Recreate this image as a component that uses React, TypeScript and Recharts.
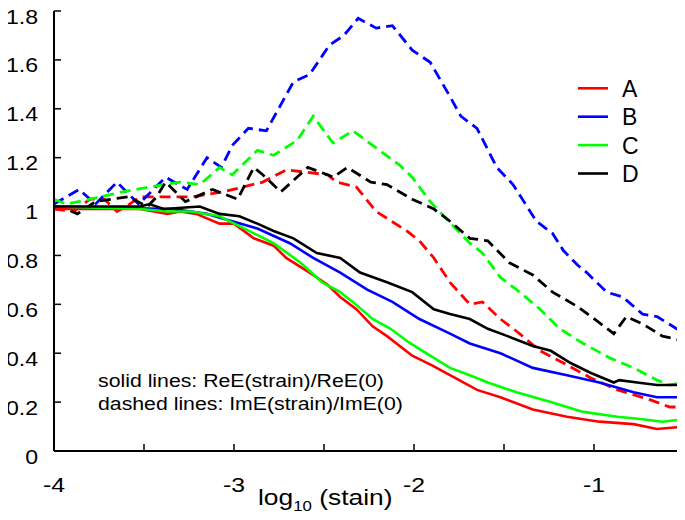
import React from 'react';
import { LineChart, Line, XAxis, YAxis } from 'recharts';

// ---- Data ----
const seriesNames = ['A', 'B', 'C', 'D'];
const seriesColors = ['#ff0000', '#0000ff', '#00ff00', '#000000'];

const xTicks = [-4, -3.5, -3, -2.5, -2, -1.5, -1, -0.5];
const yTicks = [0, 0.2, 0.4, 0.6, 0.8, 1, 1.2, 1.4, 1.6, 1.8];

// solid lines: ReE(strain)/ReE(0)
const reA_x = [-4.0, -3.71, -3.52, -3.37, -3.3, -3.21, -3.08, -3.0, -2.89, -2.78, -2.71, -2.58, -2.48, -2.41, -2.32, -2.23, -2.15, -2.01, -1.9, -1.8, -1.65, -1.52, -1.34, -1.15, -0.97, -0.78, -0.65, -0.5];
const reA_y = [0.99, 0.99, 0.99, 0.97, 0.98, 0.97, 0.93, 0.93, 0.87, 0.84, 0.79, 0.73, 0.68, 0.63, 0.58, 0.51, 0.47, 0.39, 0.35, 0.31, 0.25, 0.22, 0.17, 0.14, 0.12, 0.11, 0.09, 0.10];

const reB_x = [-4.0, -3.34, -3.15, -3.01, -2.87, -2.69, -2.56, -2.41, -2.26, -2.12, -1.97, -1.8, -1.69, -1.52, -1.34, -1.15, -0.97, -0.78, -0.65, -0.5];
const reB_y = [1.0, 0.99, 0.97, 0.94, 0.91, 0.85, 0.79, 0.73, 0.66, 0.61, 0.54, 0.48, 0.44, 0.4, 0.34, 0.31, 0.28, 0.24, 0.22, 0.22];

const reC_x = [-4.0, -3.52, -3.37, -3.24, -3.08, -2.97, -2.78, -2.63, -2.51, -2.41, -2.34, -2.23, -2.13, -2.02, -1.91, -1.8, -1.69, -1.59, -1.43, -1.24, -1.06, -0.87, -0.73, -0.62, -0.5];
const reC_y = [1.0, 0.99, 0.98, 0.98, 0.96, 0.92, 0.85, 0.77, 0.69, 0.65, 0.61, 0.54, 0.5, 0.44, 0.39, 0.34, 0.31, 0.28, 0.24, 0.2, 0.16, 0.14, 0.13, 0.12, 0.13];

const reD_x = [-4.0, -3.52, -3.47, -3.39, -3.19, -3.08, -2.97, -2.87, -2.78, -2.67, -2.54, -2.41, -2.3, -2.15, -2.01, -1.89, -1.8, -1.69, -1.59, -1.48, -1.34, -1.24, -1.13, -1.02, -0.89, -0.86, -0.76, -0.65, -0.5];
const reD_y = [1.0, 1.0, 1.01, 0.99, 1.0, 0.97, 0.96, 0.93, 0.9, 0.87, 0.81, 0.79, 0.73, 0.69, 0.65, 0.58, 0.56, 0.54, 0.5, 0.47, 0.43, 0.41, 0.36, 0.32, 0.28, 0.29, 0.28, 0.27, 0.27];

// dashed lines: ImE(strain)/ImE(0)
const imA_x = [-4.0, -3.89, -3.8, -3.72, -3.65, -3.58, -3.52, -3.23, -3.06, -2.95, -2.84, -2.71, -2.48, -2.43, -2.32, -2.21, -2.04, -1.97, -1.89, -1.8, -1.69, -1.62, -1.52, -1.43, -1.3, -1.17, -1.02, -0.87, -0.69, -0.58, -0.5];
const imA_y = [0.99, 0.98, 1.03, 1.03, 0.98, 1.01, 1.04, 1.04, 1.06, 1.08, 1.1, 1.15, 1.13, 1.1, 1.08, 0.98, 0.9, 0.86, 0.79, 0.69, 0.6, 0.61, 0.54, 0.49, 0.41, 0.36, 0.3, 0.25, 0.21, 0.18, 0.18];

const imB_x = [-4.0, -3.86, -3.77, -3.65, -3.53, -3.38, -3.26, -3.15, -3.07, -3.01, -2.92, -2.82, -2.67, -2.58, -2.47, -2.39, -2.31, -2.21, -2.12, -2.01, -1.91, -1.8, -1.74, -1.65, -1.54, -1.45, -1.32, -1.23, -1.17, -1.09, -1.04, -0.93, -0.84, -0.73, -0.65, -0.54, -0.5];
const imB_y = [1.01, 1.07, 1.01, 1.1, 1.01, 1.12, 1.07, 1.2, 1.16, 1.25, 1.32, 1.31, 1.51, 1.54, 1.66, 1.7, 1.77, 1.73, 1.74, 1.64, 1.59, 1.45, 1.37, 1.32, 1.16, 1.09, 0.94, 0.89, 0.82, 0.76, 0.73, 0.65, 0.63, 0.56, 0.55, 0.5, 0.5];

const imC_x = [-4.0, -3.93, -3.8, -3.62, -3.47, -3.3, -3.19, -3.08, -3.01, -2.87, -2.78, -2.65, -2.56, -2.45, -2.34, -2.21, -2.08, -2.01, -1.91, -1.82, -1.69, -1.62, -1.52, -1.43, -1.3, -1.19, -1.06, -0.91, -0.78, -0.65, -0.58, -0.5];
const imC_y = [1.03, 1.01, 1.03, 1.06, 1.08, 1.1, 1.09, 1.16, 1.13, 1.23, 1.21, 1.27, 1.37, 1.26, 1.31, 1.24, 1.17, 1.12, 1.02, 0.95, 0.85, 0.81, 0.71, 0.66, 0.58, 0.5, 0.44, 0.38, 0.34, 0.29, 0.27, 0.28];

const imD_x = [-4.0, -3.93, -3.87, -3.77, -3.59, -3.48, -3.43, -3.38, -3.27, -3.12, -2.98, -2.89, -2.84, -2.74, -2.59, -2.48, -2.45, -2.37, -2.24, -2.15, -2.01, -1.89, -1.8, -1.69, -1.59, -1.47, -1.34, -1.23, -1.09, -0.98, -0.89, -0.82, -0.73, -0.62, -0.5];
const imD_y = [1.0, 0.99, 0.97, 1.02, 1.04, 1.0, 1.04, 1.1, 1.02, 1.07, 1.03, 1.16, 1.13, 1.06, 1.16, 1.13, 1.12, 1.16, 1.1, 1.09, 1.03, 0.99, 0.94, 0.87, 0.86, 0.77, 0.72, 0.65, 0.59, 0.53, 0.48, 0.55, 0.52, 0.47, 0.45];

const annotationLines = ['solid lines: ReE(strain)/ReE(0)', 'dashed lines: ImE(strain)/ImE(0)'];

// ---- Build tables ----
const zip = (xs: number[], ys: number[]) => xs.map((x, i) => ({ x, y: ys[i] }));
const reData = [zip(reA_x, reA_y), zip(reB_x, reB_y), zip(reC_x, reC_y), zip(reD_x, reD_y)];
const imData = [zip(imA_x, imA_y), zip(imB_x, imB_y), zip(imC_x, imC_y), zip(imD_x, imD_y)];

// ---- Layout ----
const W = 685;
const H = 520;
const FONT = 'Liberation Sans, Arial, Helvetica, sans-serif';

const SText = ({ x, y, anchor = 'start', size = 21, sx = 1.12, children }: any) => (
  <text
    transform={`translate(${x} ${y}) scale(${sx} 1)`}
    textAnchor={anchor}
    fontSize={size}
    fontFamily={FONT}
    fill="#000"
  >
    {children}
  </text>
);

const BottomTick = (props: any) => {
  const { x, y, payload } = props;
  const v = payload.value;
  const major = Math.abs(v - Math.round(v)) < 1e-9;
  return (
    <g>
      <line x1={x} x2={x} y1={y} y2={y - 7} stroke="#000" strokeWidth={1.5} />
      {major && (
        <SText x={x} y={y + 41} anchor="middle" sx={1.18}>
          {String(v)}
        </SText>
      )}
    </g>
  );
};

const TopTick = (props: any) => {
  const { x, y } = props;
  return <line x1={x} x2={x} y1={y} y2={y + 7} stroke="#000" strokeWidth={1.5} />;
};

const LeftTick = (props: any) => {
  const { x, y, payload } = props;
  const v = Math.round(payload.value * 10) / 10;
  return (
    <g>
      <line x1={x} x2={x + 7} y1={y} y2={y} stroke="#000" strokeWidth={1.5} />
      <SText x={x - 16} y={y + 12.5} anchor="end" sx={1.1}>
        {String(v)}
      </SText>
    </g>
  );
};

const RightTick = (props: any) => {
  const { x, y } = props;
  return <line x1={x} x2={x - 7} y1={y} y2={y} stroke="#000" strokeWidth={1.5} />;
};

export default function App() {
  const legendTop = 88.3;
  const legendStep = 28.4;
  return (
    <div style={{ position: 'relative', width: W, height: H, margin: -8 }}>
      <LineChart width={W} height={H} margin={{ top: 11, right: 1, bottom: 0, left: 0 }}>
        <XAxis
          xAxisId="bottom"
          dataKey="x"
          type="number"
          domain={[-4, -0.5]}
          ticks={xTicks}
          allowDataOverflow
          height={69}
          tickSize={0}
          tickMargin={0}
          tickLine={false}
          tick={<BottomTick />}
          axisLine={{ stroke: '#000', strokeWidth: 2 }}
          interval={0}
        />
        <XAxis
          xAxisId="top"
          orientation="top"
          dataKey="x"
          type="number"
          domain={[-4, -0.5]}
          ticks={xTicks}
          allowDataOverflow
          height={0}
          tickSize={0}
          tickMargin={0}
          tickLine={false}
          tick={<TopTick />}
          axisLine={{ stroke: '#000', strokeWidth: 2 }}
          interval={0}
        />
        <YAxis
          yAxisId="left"
          type="number"
          domain={[0, 1.8]}
          ticks={yTicks}
          allowDataOverflow
          width={54}
          tickSize={0}
          tickMargin={0}
          tickLine={false}
          tick={<LeftTick />}
          axisLine={{ stroke: '#000', strokeWidth: 2 }}
          interval={0}
        />
        <YAxis
          yAxisId="right"
          orientation="right"
          type="number"
          domain={[0, 1.8]}
          ticks={yTicks}
          allowDataOverflow
          width={0}
          tickSize={0}
          tickMargin={0}
          tickLine={false}
          tick={<RightTick />}
          axisLine={{ stroke: '#000', strokeWidth: 2 }}
          interval={0}
        />
        {seriesNames.map((n, i) => (
          <Line
            key={'im' + n}
            xAxisId="bottom"
            yAxisId="left"
            data={imData[i]}
            dataKey="y"
            name={n + ' Im'}
            type="linear"
            stroke={seriesColors[i]}
            strokeWidth={2.8}
            strokeDasharray="11 6"
            dot={false}
            activeDot={false}
            legendType="none"
            isAnimationActive={false}
          />
        ))}
        {seriesNames.map((n, i) => (
          <Line
            key={'re' + n}
            xAxisId="bottom"
            yAxisId="left"
            data={reData[i]}
            dataKey="y"
            name={n}
            type="linear"
            stroke={seriesColors[i]}
            strokeWidth={2.6}
            dot={false}
            activeDot={false}
            isAnimationActive={false}
          />
        ))}
      </LineChart>
      <svg
        width={W}
        height={H}
        style={{ position: 'absolute', left: 0, top: 0, pointerEvents: 'none', overflow: 'visible' }}
      >
        {seriesNames.map((n, i) => (
          <g key={n}>
            <line
              x1={578}
              x2={608}
              y1={legendTop + i * legendStep}
              y2={legendTop + i * legendStep}
              stroke={seriesColors[i]}
              strokeWidth={2.6}
            />
            <SText x={622} y={legendTop + i * legendStep + 8.5} size={23} sx={1.0}>
              {n}
            </SText>
          </g>
        ))}
        <SText x={98} y={387} size={18.5} sx={1.15}>
          {annotationLines[0]}
        </SText>
        <SText x={98} y={410} size={18.5} sx={1.15}>
          {annotationLines[1]}
        </SText>
        <text
          transform={`translate(258 505) scale(1.2 1)`}
          fontSize={22}
          fontFamily={FONT}
          fill="#000"
        >
          log
          <tspan fontSize={14} dy={6}>
            10
          </tspan>
          <tspan dy={-6}> (stain)</tspan>
        </text>
      </svg>
    </div>
  );
}
